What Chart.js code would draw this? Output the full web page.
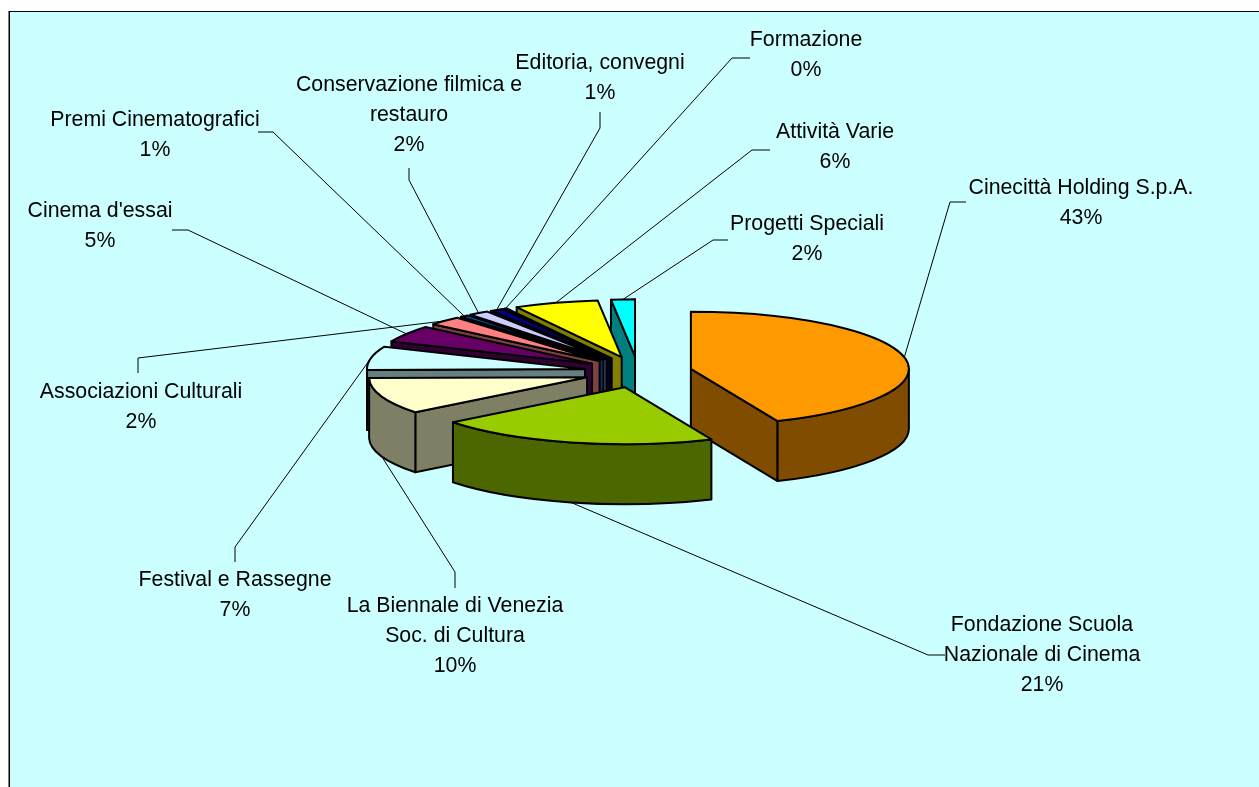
<!DOCTYPE html>
<html>
<head>
<meta charset="utf-8">
<style>
  html, body { margin: 0; padding: 0; background: #fff; overflow: hidden; }
  canvas { display: block; }
</style>
<script src="https://cdn.jsdelivr.net/npm/chart.js@4"></script>
</head>
<body>
<div style="width:1259px;height:787px"><canvas id="pie"></canvas></div>
<script>
// ---------- DATA ----------
const categories = [
  ["Cinecittà Holding S.p.A."],
  ["Fondazione Scuola", "Nazionale di Cinema"],
  ["La Biennale di Venezia", "Soc. di Cultura"],
  ["Festival e Rassegne"],
  ["Cinema d'essai"],
  ["Associazioni Culturali"],
  ["Premi Cinematografici"],
  ["Conservazione filmica e", "restauro"],
  ["Editoria, convegni"],
  ["Formazione"],
  ["Attività Varie"],
  ["Progetti Speciali"]
];
const values = [43.49, 20.95, 10.31, 6.65, 4.78, 2.49, 0.6, 1.53, 1, 0.2, 6.24, 1.76];
const colors = ["#FF9900", "#99CC00", "#FFFFCC", "#CCFFFF", "#660066", "#FF8080",
                "#0066CC", "#CCCCFF", "#000080", "#FF00FF", "#FFFF00", "#00FFFF"];

// ---------- LAYOUT ----------
const TILT = 57 / 218;   // squash of the pie
const DEPTH = 60;        // wall height
const EXPLODE = 54;      // slice pull-out
const EXPLODE_TILT = 0.29;
const LINE_H = 30;
// centre x and first line middle y of each label
const labelX = [1081, 1042, 455, 235, 100, 141, 155, 409, 600, 806, 835, 807];
const labelY = [188, 625, 606, 580, 211, 392, 120, 85, 63, 40, 132, 224];
// leader line: elbow, then the end next to the label
const elbowX = [950, 928, 455, 235, 188, 138, 273, 409, 600, 732, 752, 713];
const elbowY = [202, 655, 572, 547, 230, 358, 132, 180, 128, 58, 150, 240];
const tailX = [966, 945, 455, 235, 172, 138, 258, 409, 600, 750, 770, 728];
const tailY = [202, 655, 588, 562, 230, 373, 132, 168, 112, 58, 150, 240];

const total = values.reduce((a, b) => a + b, 0);

function halfColor(hex) {
  const n = parseInt(hex.slice(1), 16);
  const r = (n >> 16) >> 1, g = ((n >> 8) & 255) >> 1, b = (n & 255) >> 1;
  return `rgb(${r},${g},${b})`;
}

// geometry of a slice once it is pulled out and squashed
function sliceGeom(arc) {
  const mid = (arc.startAngle + arc.endAngle) / 2;
  return {
    mid,
    cx: arc.x + Math.cos(mid) * EXPLODE,
    cy: arc.y + Math.sin(mid) * EXPLODE * EXPLODE_TILT,
    rx: arc.outerRadius,
    ry: arc.outerRadius * TILT
  };
}

function drawWallQuad(ctx, g, angle, fill) {
  const px = g.cx + Math.cos(angle) * g.rx;
  const py = g.cy + Math.sin(angle) * g.ry;
  ctx.beginPath();
  ctx.moveTo(g.cx, g.cy);
  ctx.lineTo(px, py);
  ctx.lineTo(px, py + DEPTH);
  ctx.lineTo(g.cx, g.cy + DEPTH);
  ctx.closePath();
  ctx.fillStyle = fill;
  ctx.fill();
  ctx.stroke();
}

function drawSlice(ctx, arc, color) {
  const g = sliceGeom(arc);
  const wall = halfColor(color);
  ctx.save();
  ctx.strokeStyle = "#000";
  ctx.lineWidth = 2;
  ctx.lineJoin = "round";

  if (Math.cos(arc.startAngle) < 0) drawWallQuad(ctx, g, arc.startAngle, wall);
  if (Math.cos(arc.endAngle) > 0) drawWallQuad(ctx, g, arc.endAngle, wall);

  // curved wall, only the part that faces the viewer
  const lo = Math.max(arc.startAngle, 0);
  const hi = Math.min(arc.endAngle, Math.PI);
  if (hi > lo) {
    ctx.beginPath();
    ctx.ellipse(g.cx, g.cy, g.rx, g.ry, 0, lo, hi);
    ctx.ellipse(g.cx, g.cy + DEPTH, g.rx, g.ry, 0, hi, lo, true);
    ctx.closePath();
    ctx.fillStyle = wall;
    ctx.fill();
    ctx.stroke();
  }

  // top face: the library's own arc under a squashing transform
  ctx.save();
  ctx.translate(g.cx, g.cy);
  ctx.scale(1, TILT);
  ctx.translate(-arc.x, -arc.y);
  arc.draw(ctx);
  ctx.restore();

  ctx.beginPath();
  ctx.moveTo(g.cx, g.cy);
  ctx.ellipse(g.cx, g.cy, g.rx, g.ry, 0, arc.startAngle, arc.endAngle);
  ctx.closePath();
  ctx.stroke();
  ctx.restore();
}

const frame = {
  id: "frame",
  beforeDraw(chart) {
    const ctx = chart.ctx;
    ctx.save();
    ctx.fillStyle = "#fff";
    ctx.fillRect(0, 0, chart.width, chart.height);
    ctx.fillStyle = "#CCFFFF";
    ctx.fillRect(10, 12, chart.width - 10, chart.height - 12);
    ctx.fillStyle = "#808080";
    ctx.fillRect(8, 11, 1, chart.height - 11);
    ctx.fillStyle = "#000";
    ctx.fillRect(9, 11, 1, chart.height - 11);
    ctx.fillRect(9, 11, chart.width - 9, 1);
    ctx.restore();
  }
};

const pie3d = {
  id: "pie3d",
  beforeDatasetDraw(chart, args) {
    const ctx = chart.ctx;
    const arcs = args.meta.data
      .map((arc, i) => ({ arc, i }))
      .sort((a, b) => Math.sin(sliceGeom(a.arc).mid) - Math.sin(sliceGeom(b.arc).mid));
    arcs.forEach(o => drawSlice(ctx, o.arc, colors[o.i]));
    return false;
  },
  afterDraw(chart) {
    const ctx = chart.ctx;
    ctx.save();
    ctx.strokeStyle = "#000";
    ctx.lineWidth = 1;
    chart.getDatasetMeta(0).data.forEach((arc, i) => {
      const g = sliceGeom(arc);
      const front = Math.sin(g.mid) > 0.3;
      ctx.beginPath();
      ctx.moveTo(g.cx + Math.cos(g.mid) * g.rx,
                 g.cy + Math.sin(g.mid) * g.ry + (front ? DEPTH : 0));
      ctx.lineTo(elbowX[i], elbowY[i]);
      ctx.lineTo(tailX[i], tailY[i]);
      ctx.stroke();
    });

    ctx.fillStyle = "#000";
    ctx.font = '21.3px "Liberation Sans", Arial, sans-serif';
    ctx.textAlign = "center";
    ctx.textBaseline = "middle";
    categories.forEach((lines, i) => {
      const rows = lines.concat(Math.round(values[i] / total * 100) + "%");
      rows.forEach((row, r) => ctx.fillText(row, labelX[i], labelY[i] + r * LINE_H));
    });
    ctx.restore();
  }
};

// ---------- CHART ----------
new Chart(document.getElementById("pie"), {
  type: "pie",
  data: {
    labels: categories,
    datasets: [{ data: values, backgroundColor: colors, borderWidth: 0 }]
  },
  options: {
    responsive: true,
    maintainAspectRatio: false,
    animation: false,
    layout: { padding: { left: 420, right: 403, top: 154, bottom: 197 } },
    plugins: { legend: { display: false }, tooltip: { enabled: false } }
  },
  plugins: [frame, pie3d]
});
</script>
</body>
</html>
